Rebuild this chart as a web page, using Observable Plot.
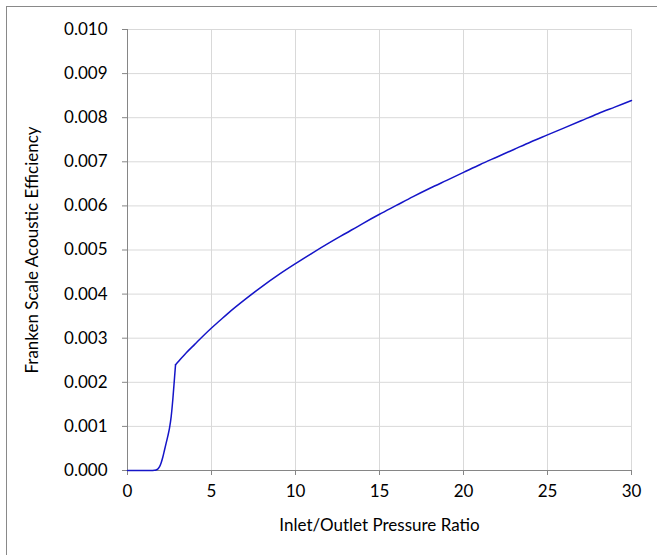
<!DOCTYPE html>
<html><head><meta charset="utf-8">
<script src="https://cdn.jsdelivr.net/npm/d3@7"></script>
<script src="https://cdn.jsdelivr.net/npm/@observablehq/plot@0.6"></script>
<style>
body{margin:0;background:#fff;}
#wrap{position:relative;width:657px;height:555px;overflow:hidden;background:#fff;}
#border{position:absolute;left:6px;top:6px;width:800px;height:800px;border:1px solid #898989;box-sizing:border-box;}
#chart{position:absolute;left:0;top:0;}
</style></head><body><div id="wrap"><div id="border"></div><div id="chart"></div></div>
<script>
const ratio = [0, 0.5, 1, 1.5, 1.6, 1.7, 1.8, 1.9, 2.0, 2.1, 2.2, 2.3, 2.4, 2.5, 2.6, 2.7, 2.8, 2.86,
  3, 3.5, 4, 4.5, 5, 5.5, 6, 7, 8, 9, 10, 11, 12, 13, 14, 15, 16, 17, 18, 19, 20, 21, 22, 23, 24, 25, 26, 27, 28, 29, 30];
const efficiency = [0, 0, 0, 0, 0.000003, 0.00001, 0.00003, 0.00008, 0.00017, 0.0003, 0.00046, 0.00062, 0.00078, 0.00096, 0.00122, 0.00162, 0.00211, 0.0024,
  0.00246, 0.00267, 0.00286, 0.00305, 0.00323, 0.0034, 0.00357, 0.00388, 0.00417, 0.00444, 0.00469, 0.00493, 0.00516, 0.00538, 0.0056, 0.00581,
  0.00601, 0.00621, 0.0064, 0.00658, 0.00676, 0.00694, 0.00711, 0.00728, 0.00745, 0.00761, 0.00777, 0.00793, 0.00809, 0.00824, 0.00839];
const kinkRatio = 2.86;
const xTicks = [0, 5, 10, 15, 20, 25, 30];
const yTicks = [0, 0.001, 0.002, 0.003, 0.004, 0.005, 0.006, 0.007, 0.008, 0.009, 0.010];
const xLabel = "Inlet/Outlet Pressure Ratio";
const yLabel = "Franken Scale Acoustic Efficiency";

const data = ratio.map((r, i) => ({ratio: r, eff: efficiency[i]}));
const rise = data.filter(d => d.ratio <= kinkRatio);
const choked = data.filter(d => d.ratio >= kinkRatio);

const chart = Plot.plot({
  width: 657, height: 555,
  marginLeft: 127, marginRight: 26, marginTop: 29, marginBottom: 85,
  style: {fontFamily: "Lato", fontSize: "17px", color: "#000", background: "transparent"},
  x: {domain: [0, 30]},
  y: {domain: [0, 0.01]},
  marks: [
    Plot.gridY(yTicks, {stroke: "#d9d9d9", strokeOpacity: 1, strokeWidth: 1}),
    Plot.gridX(xTicks, {stroke: "#d9d9d9", strokeOpacity: 1, strokeWidth: 1}),
    Plot.ruleX([0], {stroke: "#868686"}),
    Plot.ruleY([0], {stroke: "#868686"}),
    Plot.axisY(yTicks, {tickFormat: d3.format(".3f"), tickSize: 5, tickPadding: 15, stroke: "#868686", fill: "#000",
      label: yLabel, labelAnchor: "center", labelArrow: "none", labelOffset: 102}),
    Plot.axisX(xTicks, {tickSize: 5, tickPadding: 9, stroke: "#868686", fill: "#000",
      label: xLabel, labelAnchor: "center", labelArrow: "none", labelOffset: 60}),
    Plot.line(rise, {x: "ratio", y: "eff", stroke: "#1515c8", strokeWidth: 1.5, curve: "monotone-x"}),
    Plot.line(choked, {x: "ratio", y: "eff", stroke: "#1515c8", strokeWidth: 1.5, curve: "monotone-x"})
  ]
});
document.getElementById("chart").appendChild(chart);
</script>
</body></html>
